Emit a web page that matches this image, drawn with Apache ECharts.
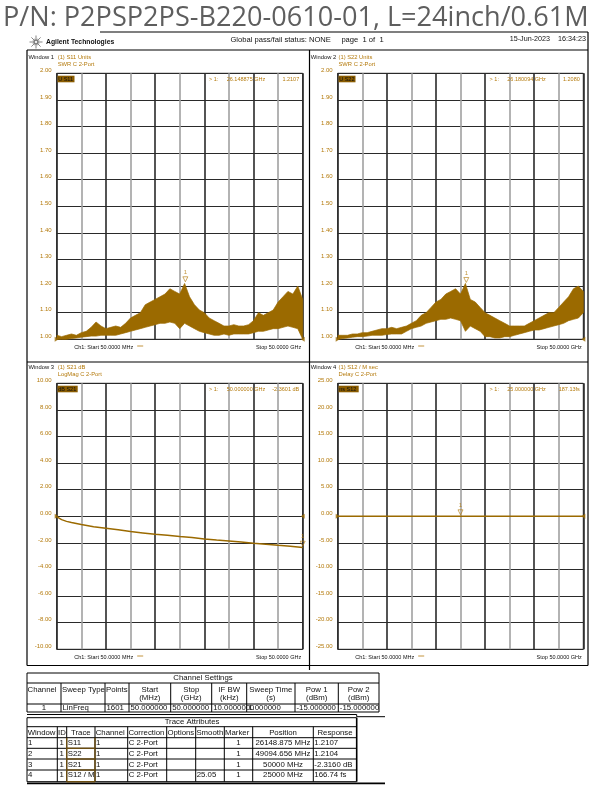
<!DOCTYPE html>
<html><head><meta charset="utf-8">
<script src="https://cdn.jsdelivr.net/npm/echarts@6/dist/echarts.min.js"></script>
<style>html,body{margin:0;padding:0;background:#fff}#c{width:609px;height:795px}</style>
</head><body><div id="c"></div>
<script>
// ---------------- DATA ----------------
const title = 'P/N: P2PSP2PS-B220-0610-01, L=24inch/0.61M';
const freqGHz = [0.05,1,2,3,4,5,6,7,8,9,10,11,12,13,14,15,16,17,18,19,20,21,22,23,24,25,26,27,28,29,30,31,32,33,34,35,36,37,38,39,40,41,42,43,44,45,46,47,48,49,50];
const s11Upper = [1.015,1.010,1.015,1.020,1.015,1.025,1.030,1.045,1.065,1.050,1.040,1.045,1.050,1.045,1.060,1.080,1.090,1.100,1.130,1.140,1.150,1.160,1.170,1.190,1.180,1.170,1.210,1.160,1.130,1.110,1.100,1.080,1.070,1.060,1.050,1.050,1.055,1.050,1.050,1.055,1.070,1.100,1.090,1.100,1.110,1.140,1.160,1.180,1.170,1.200,1.150];
const s11Lower = [1.000,1.000,1.000,1.003,1.005,1.008,1.010,1.012,1.012,1.015,1.015,1.015,1.015,1.020,1.025,1.030,1.035,1.040,1.045,1.050,1.055,1.060,1.060,1.065,1.060,1.040,1.060,1.050,1.040,1.030,1.025,1.020,1.015,1.015,1.020,1.015,1.020,1.020,1.020,1.020,1.025,1.030,1.030,1.035,1.040,1.040,1.045,1.050,1.045,1.040,1.000];
const s22Upper = [1.015,1.015,1.015,1.020,1.020,1.025,1.025,1.030,1.035,1.040,1.040,1.045,1.040,1.045,1.050,1.060,1.070,1.090,1.100,1.120,1.140,1.150,1.170,1.180,1.190,1.170,1.210,1.150,1.140,1.120,1.100,1.090,1.080,1.070,1.060,1.050,1.050,1.050,1.050,1.060,1.070,1.080,1.090,1.100,1.100,1.120,1.140,1.160,1.190,1.200,1.180];
const s22Lower = [1.000,1.003,1.005,1.008,1.010,1.010,1.012,1.015,1.015,1.015,1.018,1.020,1.020,1.020,1.030,1.040,1.045,1.050,1.060,1.065,1.070,1.075,1.075,1.080,1.075,1.070,1.030,1.050,1.040,1.030,1.010,1.010,1.005,1.005,1.010,1.010,1.015,1.020,1.025,1.030,1.035,1.035,1.040,1.045,1.050,1.055,1.060,1.070,1.075,1.080,1.100];
const s21Freq = [0.05,1,2,3,5,7.5,10,12.5,15,17.5,20,22.5,25,27.5,30,32.5,35,37.5,40,42.5,45,47.5,50];
const s21dB   = [-0.05,-0.25,-0.38,-0.47,-0.62,-0.78,-0.90,-1.02,-1.15,-1.25,-1.35,-1.43,-1.52,-1.60,-1.70,-1.78,-1.85,-1.93,-2.02,-2.10,-2.18,-2.25,-2.35];
const s12Freq = [0.05,50];
const s12ns   = [0,0];
const markers = [[26.15,1.2107],[26.18,1.2080],[50,-2.3601],[25,0]];
const refLevels = [1.0,1.0,0,0];
const ticksW12 = ['1.00','1.10','1.20','1.30','1.40','1.50','1.60','1.70','1.80','1.90','2.00'];
const ticksW3 = ['-10.00','-8.00','-6.00','-4.00','-2.00','0.00','2.00','4.00','6.00','8.00','10.00'];
const ticksW4 = ['-25.00','-20.00','-15.00','-10.00','-5.00','0.00','5.00','10.00','15.00','20.00','25.00'];
const winNames = ['Window 1','Window 2','Window 3','Window 4'];
const winLine1 = ['(1) S11 Units','(1) S22 Units','(1) S21 dB','(1) S12 / M sec'];
const winLine2 = ['SWR C 2-Port','SWR C 2-Port','LogMag C 2-Port','Delay C 2-Port'];
const mkBox = ['U S11','U S22','dB S21','ns S12'];
const mkFreq = ['26.148875 GHz','26.180094 GHz','50.000000 GHz','25.000000 GHz'];
const mkVal = ['1.2107','1.2080','-2.3601 dB','187.13fs'];
const chTitle = 'Channel Settings';
const chHeaders = [['Channel'],['Sweep Type'],['Points'],['Start','(MHz)'],['Stop','(GHz)'],['IF BW','(kHz)'],['Sweep Time','(s)'],['Pow 1','(dBm)'],['Pow 2','(dBm)']];
const chRow = ['1','LinFreq','1601','50.000000','50.000000','10.0000000','1.000000','-15.000000','-15.000000'];
const taTitle = 'Trace Attributes';
const taHeaders = ['Window','ID','Trace','Channel','Correction','Options','Smooth','Marker','Position','Response'];
const taRows = [
 ['1','1','S11','1','C 2-Port','','','1','26148.875 MHz','1.2107'],
 ['2','1','S22','1','C 2-Port','','','1','49094.656 MHz','1.2104'],
 ['3','1','S21','1','C 2-Port','','','1','50000 MHz','-2.3160 dB'],
 ['4','1','S12 / M','1','C 2-Port','','25.05','1','25000 MHz','166.74 fs']
];
// ---------------- STYLE ----------------
const FF = '"Liberation Sans", Arial, sans-serif';
const TRACE = '#9b6a00', GOLD = '#b47a0c', MKBG = '#8a5c00';
const grids = [
 {left:56.7, top:73.3, width:246, height:266},
 {left:337.7, top:73.3, width:245.6, height:266},
 {left:56.7, top:383.3, width:246, height:266},
 {left:337.7, top:383.3, width:245.6, height:266}
];
const yDef = [[1,2,0.1,ticksW12],[1,2,0.1,ticksW12],[-10,10,2,ticksW3],[-25,25,5,ticksW4]];

function T(x,y,text,size,color,align,weight,va){
  return {type:'text',x:x,y:y,silent:true,z:10,style:{text:text,fill:color||'#000',
    font:(weight||'normal')+' '+size+'px '+FF,align:align||'left',verticalAlign:va||'middle'}};
}
function L(x1,y1,x2,y2,w,c){return {type:'line',silent:true,z:9,shape:{x1:x1,y1:y1,x2:x2,y2:y2},style:{stroke:c||'#000',lineWidth:w||1}};}
function R(x,y,w,h,fill){return {type:'rect',silent:true,z:9,shape:{x:x,y:y,width:w,height:h},style:{fill:fill}};}

const gfx = [];
// title
gfx.push({type:'text',x:3,y:4.5,scaleX:0.968,silent:true,z:1,style:{text:title,fill:'#5e5e5e',font:'normal 28px "Open Sans", "Noto Sans", sans-serif',align:'left',verticalAlign:'top'}});
// header
gfx.push(L(100,32,588,32,1.2));
const cx=36, cy=42;
for(let k=0;k<16;k++){const a=k*Math.PI/8, r=(k%2?3.5:6.5); gfx.push(L(cx+Math.cos(a)*1.2,cy+Math.sin(a)*1.2,cx+Math.cos(a)*r,cy+Math.sin(a)*r,0.6,'#333'));}
gfx.push(T(46,42.5,'Agilent Technologies',6.8,'#111','left','bold'));
gfx.push(T(307,39.5,'Global pass/fail status: NONE     page  1 of  1',7.6,'#111','center'));
gfx.push(T(586,39.5,'15-Jun-2023    16:34:23',7.2,'#111','right'));
// window frames
gfx.push(L(27,50,588,50,1.2)); gfx.push(L(27,362,588,362,1.2)); gfx.push(L(27,665.5,309.5,665.5,1.2));
gfx.push(L(27,50,27,665.5,1.2)); gfx.push(L(309.5,50,309.5,670,1.2)); gfx.push(L(588,32,588,665.5,1.2));
gfx.push(L(309.5,665.5,588,665.5,1.2));
// window texts
const winX = [[28.5,57.7],[310.8,338.5],[28.5,57.7],[310.8,338.5]];
const winY = [57.3,57.3,367.3,367.3];
for(let i=0;i<4;i++){
  const g=grids[i];
  gfx.push(T(winX[i][0],winY[i],winNames[i],5.8,'#111'));
  gfx.push(T(winX[i][1],winY[i],winLine1[i],5.8,GOLD));
  gfx.push(T(winX[i][1],winY[i]+7,winLine2[i],5.8,GOLD));
  // marker box
  const bw = mkBox[i].length*3.2+1;
  gfx.push(R(g.left+0.8,g.top+2.4,bw,6.6,MKBG));
  gfx.push(T(g.left+1.5,g.top+5.8,mkBox[i],5.5,'#111'));
  // marker readout
  const rx = g.left+g.width;
  gfx.push(T(rx-93.7,g.top+2.8,'> 1:',5.5,GOLD,'left','normal','top'));
  gfx.push(T(rx-76,g.top+2.8,mkFreq[i],5.5,GOLD,'left','normal','top'));
  gfx.push(T(rx-3.5,g.top+2.8,mkVal[i],5.5,GOLD,'right','normal','top'));
  // bottom text
  const by = g.top+g.height+8.2;
  gfx.push(T(g.left+17.5,by,'Ch1: Start 50.0000 MHz',5.5,'#111'));
  gfx.push(L(g.left+80.5,by-1.5,g.left+86.5,by-1.5,0.8,GOLD));
  gfx.push(T(rx-1.5,by,'Stop 50.0000 GHz',5.5,'#111','right'));
}
// channel settings table
const chCols=[27,61,105,129,170.7,211.7,246.7,295,338.3,379];
const chY=[673,683,704,712];
gfx.push(L(27,chY[0],379,chY[0],1)); gfx.push(L(27,chY[1],379,chY[1],1)); gfx.push(L(27,chY[2],379,chY[2],1)); gfx.push(L(27,chY[3],379,chY[3],1));
gfx.push(L(27,chY[0],27,chY[3],1)); gfx.push(L(379,chY[0],379,chY[3],1));
for(let i=1;i<chCols.length-1;i++) gfx.push(L(chCols[i],chY[1],chCols[i],chY[3],1));
gfx.push(T(203,678.3,chTitle,7.8,'#111','center'));
for(let i=0;i<chHeaders.length;i++){
  const h=chHeaders[i], mid=(chCols[i]+chCols[i+1])/2;
  if(h.length===1){ gfx.push(T(i===0?27.5:chCols[i]+1,690,h[0],7.8,'#111','left')); }
  else { gfx.push(T(mid,690,h[0],7.8,'#111','center')); gfx.push(T(mid,698.3,h[1],7.8,'#111','center')); }
}
for(let i=0;i<chRow.length;i++){
  if(i===0) gfx.push(T(44,708,chRow[i],7.8,'#111','center'));
  else gfx.push(T(chCols[i]+1.5,708,chRow[i],7.8,'#111','left'));
}
// trace attributes table
const taCols=[27,57.3,66.7,95,127.7,166.7,195.7,224.3,252.7,313.3,356.7];
const taY=[717.7,726.7,737.7,748.3,759,770,781.7];
gfx.push(L(27,714.5,356.7,714.5,1)); gfx.push(L(356.7,716.7,385,716.7,1)); gfx.push(L(356.7,714.5,356.7,716.7,1));
for(let r=0;r<taY.length;r++) gfx.push(L(27,taY[r],356.7,taY[r],1));
gfx.push(L(27,783.3,385,783.3,1.8));
gfx.push(L(27,taY[0],27,taY[6],1)); gfx.push(L(356.7,taY[0],356.7,taY[6],1.6));
for(let i=1;i<taCols.length-1;i++) gfx.push(L(taCols[i],taY[1],taCols[i],taY[6],1));
for(let r=2;r<6;r++) gfx.push(L(66.7,taY[r+1],95,taY[r+1],1.4,'#6b4d10'));
gfx.push(L(66.7,taY[2],66.7,taY[6],1.4,'#6b4d10')); gfx.push(L(95,taY[2],95,taY[6],1.4,'#6b4d10'));
gfx.push(T(192,721.9,taTitle,7.8,'#111','center'));
for(let i=0;i<taHeaders.length;i++){
  const mid=(taCols[i]+taCols[i+1])/2;
  if(i===2||i===8||i===9) gfx.push(T(mid,732.6,taHeaders[i],7.8,'#111','center'));
  else gfx.push(T(taCols[i]+0.7,732.6,taHeaders[i],7.8,'#111','left'));
}
const rowMid=[743.3,753.6,764.5,775.3];
for(let r=0;r<taRows.length;r++){
  const row=taRows[r];
  for(let i=0;i<row.length;i++){
    if(!row[i]) continue;
    const mid=(taCols[i]+taCols[i+1])/2;
    if(i===1) gfx.push(T(taCols[i+1]-5,rowMid[r],row[i],7.8,'#111','center'));
    else if(i===7||i===8) gfx.push(T(mid,rowMid[r],row[i],7.8,'#111','center'));
    else gfx.push(T(taCols[i]+1,rowMid[r],row[i],7.8,'#111','left'));
  }
}

// ---------------- AXES & SERIES ----------------
const xAxes=[], yAxes=[], series=[];
for(let i=0;i<4;i++){
  const [mn,mx,iv,tk]=yDef[i];
  xAxes.push({gridIndex:i,type:'value',min:0,max:50,interval:5,axisLabel:{show:false},axisTick:{show:false},axisLine:{show:false},
    splitLine:{show:true,lineStyle:{color:['#2a2a2a','#a0a0a0'],width:1.6}}});
  yAxes.push({gridIndex:i,type:'value',min:mn,max:mx,interval:iv,axisTick:{show:false},axisLine:{show:false},
    axisLabel:{color:GOLD,fontSize:6,fontFamily:FF,margin:5,verticalAlign:'bottom',formatter:(v)=>tk[Math.round((v-mn)/iv)]},
    splitLine:{show:true,lineStyle:{color:'#2a2a2a',width:1.2}}});
}
function band(idx,up,lo){
  return {type:'custom',xAxisIndex:idx,yAxisIndex:idx,silent:true,z:3,
    data:freqGHz.map((f,i)=>[f,up[i],lo[i]]),encode:{x:0,y:[1,2]},
    renderItem:function(params,api){
      if(params.dataIndex!==0) return null;
      const pts=[];
      for(let i=0;i<freqGHz.length;i++) pts.push(api.coord([freqGHz[i],up[i]]));
      for(let i=freqGHz.length-1;i>=0;i--) pts.push(api.coord([freqGHz[i],lo[i]]));
      return {type:'polygon',shape:{points:pts},style:{fill:TRACE,stroke:TRACE,lineWidth:0.7}};
    }};
}
series.push(band(0,s11Upper,s11Lower));
series.push(band(1,s22Upper,s22Lower));
series.push({type:'line',xAxisIndex:2,yAxisIndex:2,symbol:'none',silent:true,z:3,data:s21Freq.map((f,i)=>[f,s21dB[i]]),lineStyle:{color:TRACE,width:1.5}});
series.push({type:'line',xAxisIndex:3,yAxisIndex:3,symbol:'none',silent:true,z:3,data:s12Freq.map((f,i)=>[f,s12ns[i]]),lineStyle:{color:TRACE,width:1.5}});
for(let i=0;i<4;i++){
  series.push({type:'scatter',xAxisIndex:i,yAxisIndex:i,silent:true,z:5,data:[markers[i]],symbol:'triangle',symbolRotate:180,symbolSize:[5,5],symbolOffset:[0,-4],
    itemStyle:{color:'rgba(0,0,0,0)',borderColor:GOLD,borderWidth:0.8},
    label:{show:true,formatter:'1',position:'top',distance:1,fontSize:6,fontFamily:FF,color:GOLD}});
  series.push({type:'scatter',xAxisIndex:i,yAxisIndex:i,silent:true,z:5,data:[[0,refLevels[i]]],symbol:'triangle',symbolRotate:-90,symbolSize:[5,4],itemStyle:{color:TRACE}});
  series.push({type:'scatter',xAxisIndex:i,yAxisIndex:i,silent:true,z:5,data:[[50,refLevels[i]]],symbol:'triangle',symbolRotate:90,symbolSize:[5,4],itemStyle:{color:TRACE}});
}
const chart = echarts.init(document.getElementById('c'),null,{renderer:'canvas'});
chart.setOption({animation:false,backgroundColor:'#fff',
  grid:grids.map(g=>Object.assign({show:true,borderColor:'#222',borderWidth:1,backgroundColor:'#fff'},g)),
  xAxis:xAxes,yAxis:yAxes,series:series,graphic:{elements:gfx}});
</script></body></html>
